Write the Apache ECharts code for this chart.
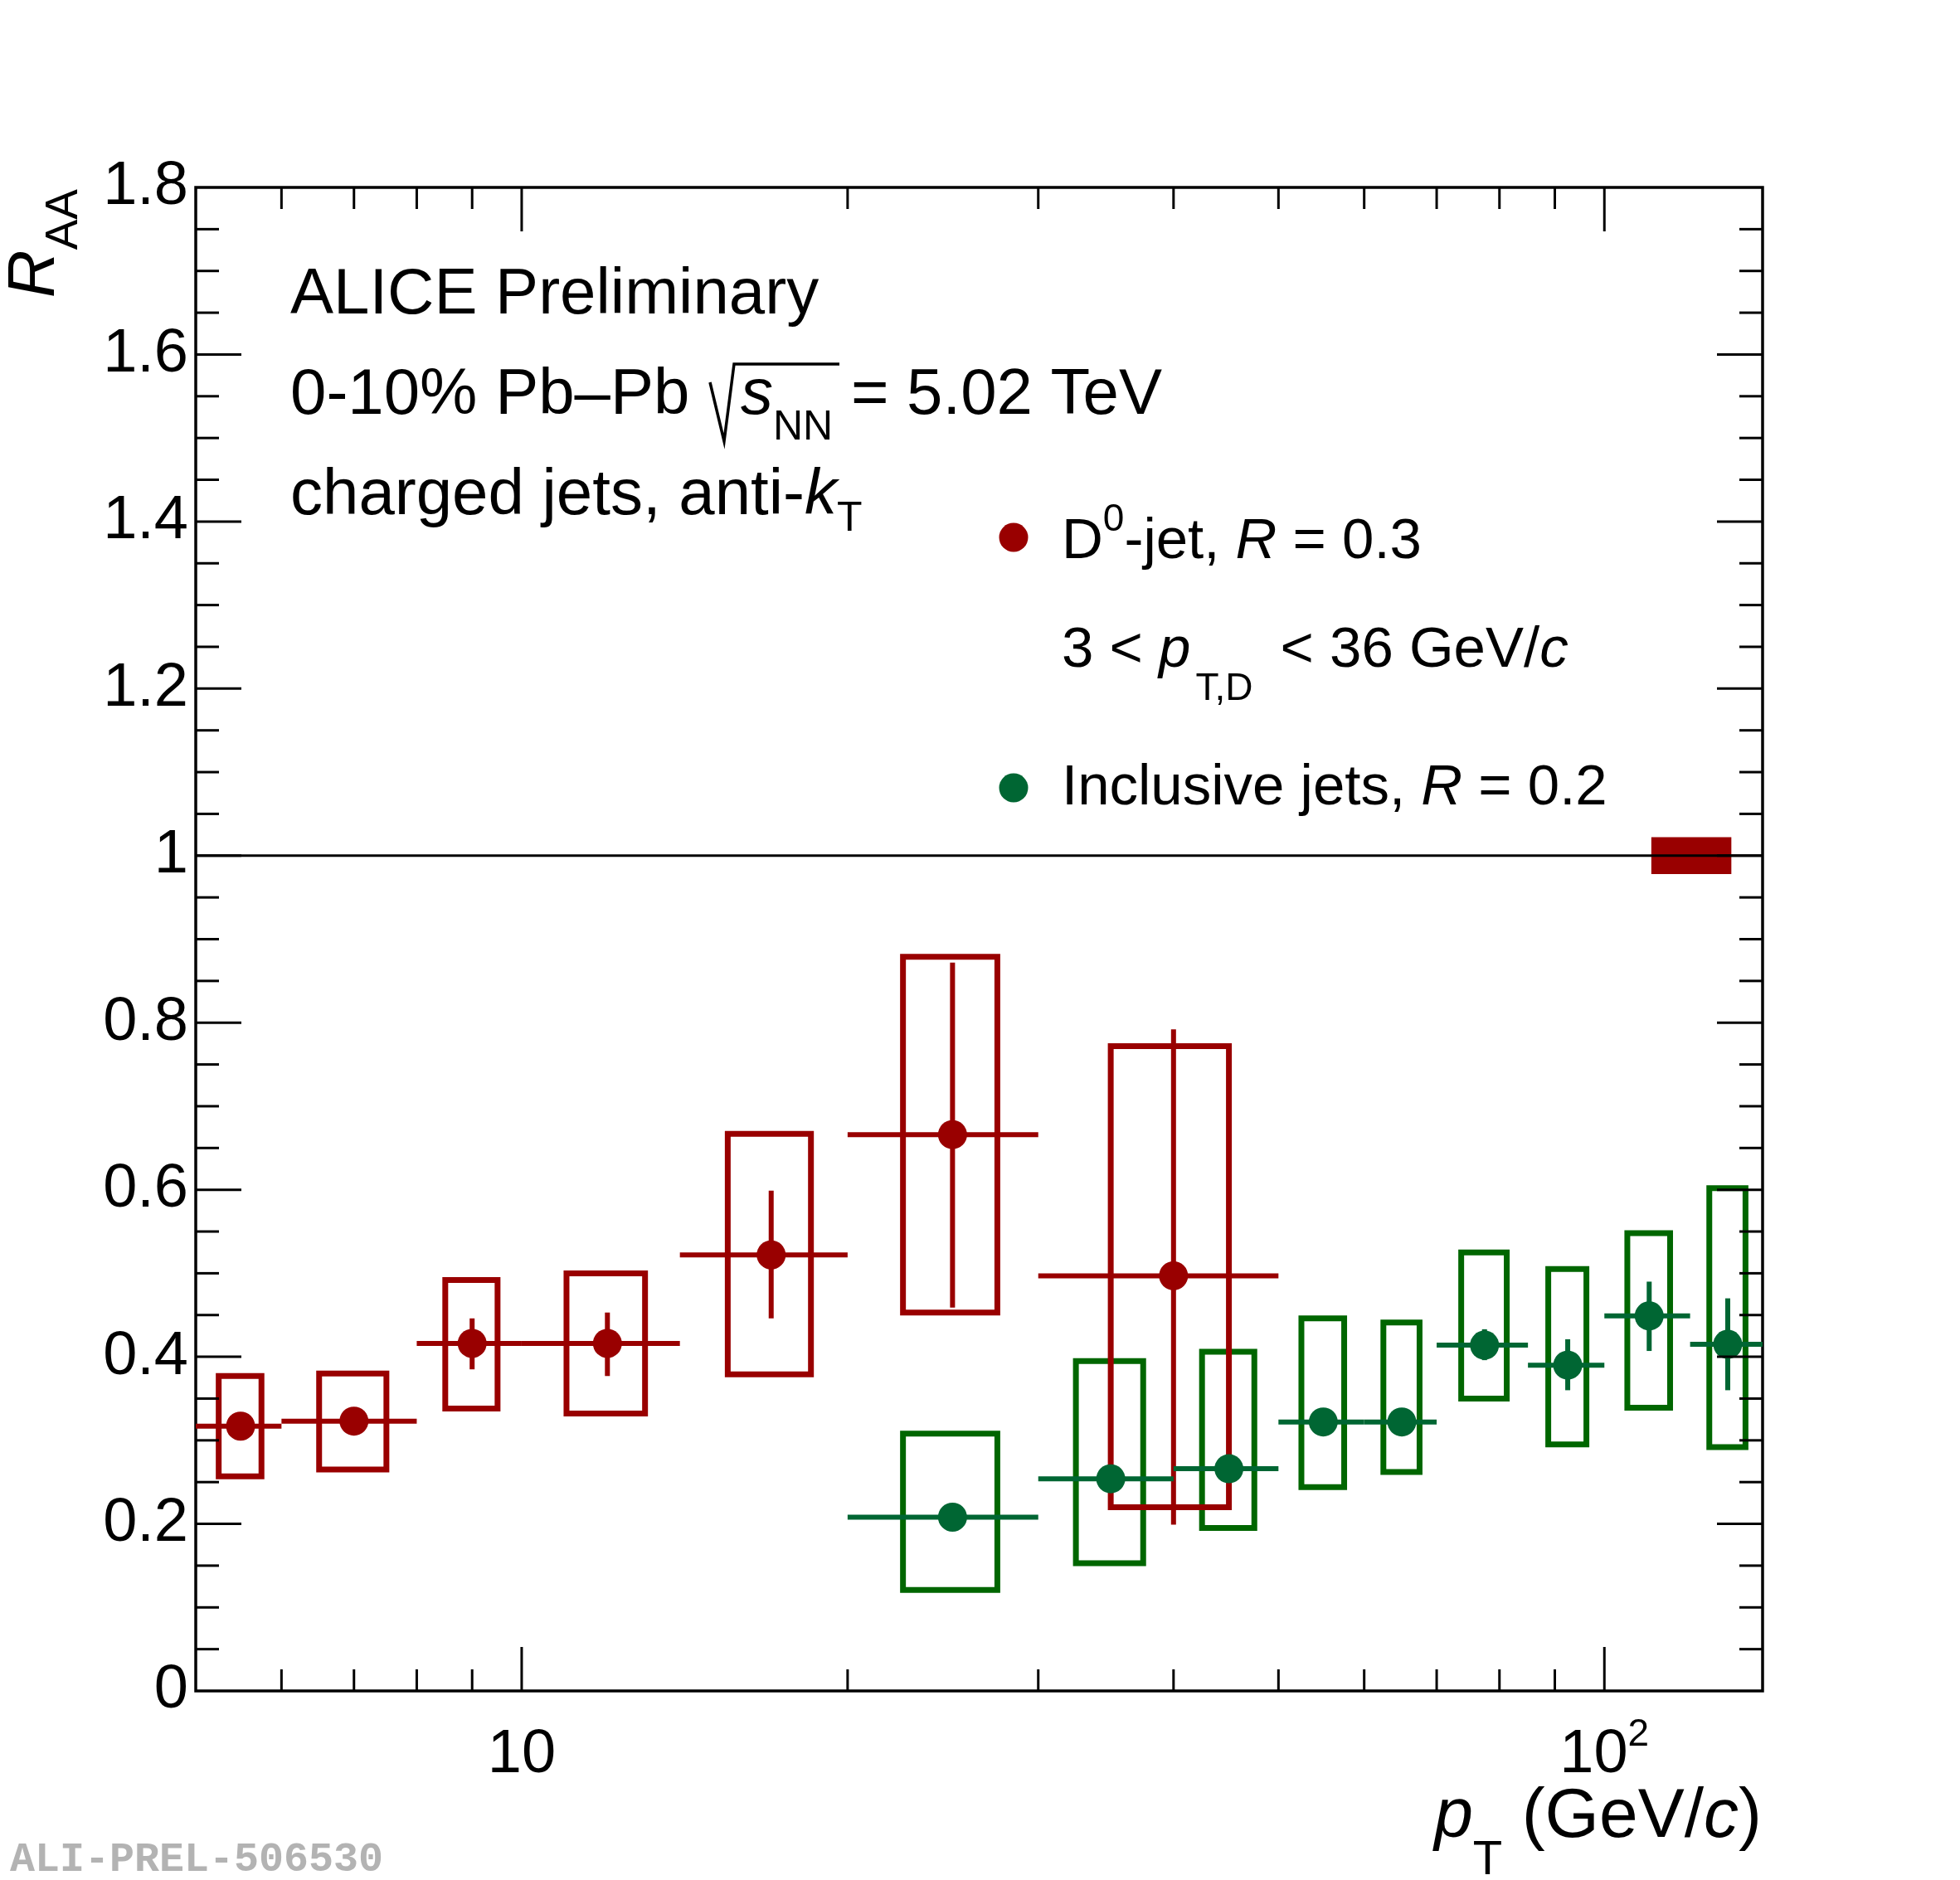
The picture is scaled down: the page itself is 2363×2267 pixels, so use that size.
<!DOCTYPE html>
<html><head><meta charset="utf-8">
<script src="https://cdn.jsdelivr.net/npm/echarts@6/dist/echarts.min.js"></script>
<style>html,body{margin:0;padding:0;background:#fff}#c{width:2363px;height:2267px}</style>
</head><body><div id="c"></div>
<script>
// ---------- data ----------
// D0-jet, R = 0.3
const d0Center = [5.5, 7, 9, 12, 17, 25, 40];
const d0BinLo  = [5, 6, 8, 10, 14, 20, 30];
const d0BinHi  = [6, 8, 10, 14, 20, 30, 50];
const d0Value  = [0.317, 0.323, 0.416, 0.416, 0.522, 0.666, 0.497];
const d0StatLo = [0.307, 0.313, 0.385, 0.377, 0.446, 0.459, 0.199];
const d0StatHi = [0.327, 0.333, 0.446, 0.453, 0.599, 0.872, 0.792];
const d0SysLo  = [0.257, 0.265, 0.338, 0.332, 0.379, 0.453, 0.220];
const d0SysHi  = [0.377, 0.380, 0.492, 0.500, 0.667, 0.879, 0.772];
// Inclusive jets, R = 0.2
const incCenter = [25, 35, 45, 55, 65, 77.5, 92.5, 110, 130];
const incBinLo  = [20, 30, 40, 50, 60, 70, 85, 100, 120];
const incBinHi  = [30, 40, 50, 60, 70, 85, 100, 120, 140];
const incValue  = [0.208, 0.254, 0.266, 0.322, 0.322, 0.414, 0.390, 0.449, 0.415];
const incStatLo = [0.200, 0.246, 0.258, 0.314, 0.314, 0.396, 0.360, 0.407, 0.360];
const incStatHi = [0.216, 0.262, 0.274, 0.330, 0.330, 0.433, 0.421, 0.490, 0.470];
const incSysLo  = [0.121, 0.153, 0.195, 0.244, 0.262, 0.350, 0.295, 0.339, 0.292];
const incSysHi  = [0.308, 0.395, 0.406, 0.446, 0.441, 0.525, 0.505, 0.548, 0.602];
// global normalisation uncertainty box
const normX = [110.5, 131];
const normY = [0.978, 1.022];
// reference line
const refLineY = 1;
// axes
const xRange = [5, 140];
const yRange = [0, 1.8];
const xMajorTicks = [10, 100];
const xMinorTicks = [6, 7, 8, 9, 20, 30, 40, 50, 60, 70, 80, 90];
const xLabelValues = [10, 100];
const xLabelBase = ['10', '10'];
const xLabelExp = ['', '2'];
const yMajorTicks = [0.2, 0.4, 0.6, 0.8, 1.0, 1.2, 1.4, 1.6];
const yMinorTicks = [0.05, 0.1, 0.15, 0.25, 0.3, 0.35, 0.45, 0.5, 0.55, 0.65, 0.7, 0.75, 0.85, 0.9, 0.95,
                     1.05, 1.1, 1.15, 1.25, 1.3, 1.35, 1.45, 1.5, 1.55, 1.65, 1.7, 1.75];

// ---------- styling ----------
const FONT = '"Liberation Sans", Arial, Helvetica, sans-serif';
const RED = '#990000', GREEN_BOX = '#006600', GREEN = '#006633';

function boxData(center, lo, hi, sLo, sHi) {
  return center.map((c, i) => { const hw = (hi[i] - lo[i]) / 4; return [c - hw, c + hw, sLo[i], sHi[i]]; });
}
function errData(center, lo, hi, v, sLo, sHi) {
  return center.map((c, i) => [c, v[i], lo[i], hi[i], sLo[i], sHi[i]]);
}
function renderBox(color, filled) {
  return (params, api) => {
    const p0 = api.coord([api.value(0), api.value(2)]);
    const p1 = api.coord([api.value(1), api.value(3)]);
    return { type: 'rect',
      shape: { x: p0[0], y: p1[1], width: p1[0] - p0[0], height: p0[1] - p1[1] },
      style: filled ? { fill: color } : { fill: 'none', stroke: color, lineWidth: 7 } };
  };
}
function renderErr(color) {
  return (params, api) => {
    const c = api.value(0), v = api.value(1);
    const a = api.coord([api.value(2), v]), b = api.coord([api.value(3), v]);
    const s0 = api.coord([c, api.value(4)]), s1 = api.coord([c, api.value(5)]);
    return { type: 'group', children: [
      { type: 'line', shape: { x1: a[0], y1: a[1], x2: b[0], y2: b[1] }, style: { stroke: color, lineWidth: 6 } },
      { type: 'line', shape: { x1: s0[0], y1: s0[1], x2: s1[0], y2: s1[1] }, style: { stroke: color, lineWidth: 6 } }
    ] };
  };
}
function renderXTick(params, api) {
  const cs = params.coordSys;
  const px = api.coord([api.value(0), 1])[0];
  const len = api.value(1) ? 53 : 26;
  const st = { stroke: '#000', lineWidth: 3 };
  return { type: 'group', children: [
    { type: 'line', shape: { x1: px, y1: cs.y + cs.height, x2: px, y2: cs.y + cs.height - len }, style: st },
    { type: 'line', shape: { x1: px, y1: cs.y, x2: px, y2: cs.y + len }, style: st }
  ] };
}
function renderYTick(params, api) {
  const cs = params.coordSys;
  const py = api.coord([10, api.value(1)])[1];
  const len = api.value(2) ? 55 : 28;
  const st = { stroke: '#000', lineWidth: 3 };
  return { type: 'group', children: [
    { type: 'line', shape: { x1: cs.x, y1: py, x2: cs.x + len, y2: py }, style: st },
    { type: 'line', shape: { x1: cs.x + cs.width, y1: py, x2: cs.x + cs.width - len, y2: py }, style: st }
  ] };
}

const chart = echarts.init(document.getElementById('c'), null, { renderer: 'canvas', width: 2363, height: 2267 });

const rt = (o) => Object.assign({ fontFamily: FONT, fill: '#000', color: '#000' }, o);

const option = {
  animation: false,
  backgroundColor: '#fff',
  grid: { left: 236, right: 238, top: 226, bottom: 228, show: true, borderColor: '#000', borderWidth: 3.5, backgroundColor: 'transparent' },
  xAxis: {
    type: 'log', logBase: 10, min: xRange[0], max: xRange[1],
    axisLine: { show: false }, axisTick: { show: false }, splitLine: { show: false }, minorTick: { show: false },
    axisLabel: {
      margin: 30, showMinLabel: false, showMaxLabel: false,
      formatter: (v) => {
        for (let i = 0; i < xLabelValues.length; i++) {
          if (Math.abs(Math.log10(v) - Math.log10(xLabelValues[i])) < 1e-6) {
            return '{b|' + xLabelBase[i] + '}' + (xLabelExp[i] ? '{s|' + xLabelExp[i] + '}' : '');
          }
        }
        return '';
      },
      rich: {
        b: { fontFamily: FONT, fontSize: 74, lineHeight: 96, color: '#000' },
        s: { fontFamily: FONT, fontSize: 46, lineHeight: 46, verticalAlign: 'top', color: '#000' }
      }
    }
  },
  yAxis: {
    type: 'value', min: yRange[0], max: yRange[1], interval: 0.2,
    axisLine: { show: false }, axisTick: { show: false }, splitLine: { show: false },
    axisLabel: { margin: 9, fontFamily: FONT, fontSize: 74, color: '#000' }
  },
  series: [
    { type: 'custom', name: 'ticksX', renderItem: renderXTick, encode: { x: 0, y: 1 }, z: 10, silent: true,
      data: xMajorTicks.map(v => [v, 1]).concat(xMinorTicks.map(v => [v, 0])) },
    { type: 'custom', name: 'ticksY', renderItem: renderYTick, encode: { x: 0, y: 1 }, z: 10, silent: true,
      data: yMajorTicks.map(v => [10, v, 1]).concat(yMinorTicks.map(v => [10, v, 0])) },
    { type: 'custom', name: 'norm', renderItem: renderBox(RED, true), encode: { x: [0, 1], y: [2, 3] }, z: 2,
      data: [[normX[0], normX[1], normY[0], normY[1]]] },
    { type: 'line', name: 'ref', data: [[xRange[0], refLineY], [xRange[1], refLineY]], symbol: 'none',
      lineStyle: { color: '#000', width: 3 }, z: 3, silent: true },
    { type: 'custom', name: 'incSys', renderItem: renderBox(GREEN_BOX, false), encode: { x: [0, 1], y: [2, 3] }, z: 4,
      data: boxData(incCenter, incBinLo, incBinHi, incSysLo, incSysHi) },
    { type: 'custom', name: 'd0Sys', renderItem: renderBox(RED, false), encode: { x: [0, 1], y: [2, 3] }, z: 5,
      data: boxData(d0Center, d0BinLo, d0BinHi, d0SysLo, d0SysHi) },
    { type: 'custom', name: 'd0Err', renderItem: renderErr(RED), encode: { x: [0, 2, 3], y: [1, 4, 5] }, z: 6,
      data: errData(d0Center, d0BinLo, d0BinHi, d0Value, d0StatLo, d0StatHi) },
    { type: 'scatter', name: 'D0-jet', symbol: 'circle', symbolSize: 35, itemStyle: { color: RED, opacity: 1 }, z: 7,
      data: d0Center.map((c, i) => [c, d0Value[i]]) },
    { type: 'custom', name: 'incErr', renderItem: renderErr(GREEN), encode: { x: [0, 2, 3], y: [1, 4, 5] }, z: 8,
      data: errData(incCenter, incBinLo, incBinHi, incValue, incStatLo, incStatHi) },
    { type: 'scatter', name: 'Inclusive', symbol: 'circle', symbolSize: 35, itemStyle: { color: GREEN, opacity: 1 }, z: 9,
      data: incCenter.map((c, i) => [c, incValue[i]]) }
  ],
  graphic: [
    // header texts
    { type: 'text', x: 350, y: 356, z: 100, style: { text: 'ALICE Preliminary', fontFamily: FONT, fontSize: 78, fill: '#000', verticalAlign: 'middle' } },
    { type: 'text', x: 350, y: 477, z: 100, style: { text: '0-10% Pb\u2013Pb', fontFamily: FONT, fontSize: 78, fill: '#000', verticalAlign: 'middle' } },
    { type: 'polyline', z: 100, shape: { points: [[856, 461], [873, 532], [885, 439], [1012, 439]] }, style: { stroke: '#000', lineWidth: 3.5, fill: 'none' } },
    { type: 'text', x: 893, y: 413, z: 100, style: { text: '{i|s}{sub|NN}{n| = 5.02 TeV}', verticalAlign: 'top',
        rich: { i: rt({ fontSize: 78, fontStyle: 'italic', lineHeight: 128 }), sub: rt({ fontSize: 50, lineHeight: 50, verticalAlign: 'bottom' }), n: rt({ fontSize: 78, lineHeight: 128 }) } } },
    { type: 'text', x: 350, y: 546, z: 100, style: { text: '{n|charged jets, anti-}{i|k}{sub|T}', verticalAlign: 'top',
        rich: { n: rt({ fontSize: 78, lineHeight: 105 }), i: rt({ fontSize: 78, fontStyle: 'italic', lineHeight: 105 }), sub: rt({ fontSize: 50, lineHeight: 50, verticalAlign: 'bottom' }) } } },
    // legend
    { type: 'circle', z: 100, shape: { cx: 1222, cy: 648, r: 17.5 }, style: { fill: RED } },
    { type: 'circle', z: 100, shape: { cx: 1222, cy: 950, r: 17.5 }, style: { fill: GREEN } },
    { type: 'text', x: 1280, y: 604, z: 100, style: { text: '{n|D}{sup|0}{n|-jet, }{i|R}{n| = 0.3}', verticalAlign: 'top',
        rich: { n: rt({ fontSize: 69, lineHeight: 99 }), i: rt({ fontSize: 69, fontStyle: 'italic', lineHeight: 99 }), sup: rt({ fontSize: 46, lineHeight: 46, verticalAlign: 'top' }) } } },
    { type: 'text', x: 1280, y: 716, z: 100, style: { text: '{n|3 < }{i|p}{sub|T,D}{n| < 36 GeV/}{i|c}', verticalAlign: 'top',
        rich: { n: rt({ fontSize: 69, lineHeight: 138 }), i: rt({ fontSize: 69, fontStyle: 'italic', lineHeight: 138 }), sub: rt({ fontSize: 46, lineHeight: 46, verticalAlign: 'bottom', padding: [0, 14, 0, 6] }) } } },
    { type: 'text', x: 1280, y: 916, z: 100, style: { text: '{n|Inclusive jets, }{i|R}{n| = 0.2}', verticalAlign: 'top',
        rich: { n: rt({ fontSize: 69, lineHeight: 70 }), i: rt({ fontSize: 69, fontStyle: 'italic', lineHeight: 70 }) } } },
    // axis titles
    { type: 'text', x: 2124, y: 2110, z: 100, style: { text: '{i|p}{sub|T}{n| (GeV/}{i|c}{n|)}', align: 'right', verticalAlign: 'top',
        rich: { i: rt({ fontSize: 84, fontStyle: 'italic', lineHeight: 163 }), n: rt({ fontSize: 84, lineHeight: 163 }), sub: rt({ fontSize: 58, lineHeight: 58, verticalAlign: 'bottom' }) } } },
    { type: 'text', x: -19, y: 228, rotation: Math.PI / 2, z: 100, style: { text: '{i|R}{sub|AA}', align: 'right', verticalAlign: 'top',
        rich: { i: rt({ fontSize: 80, fontStyle: 'italic', lineHeight: 124 }), sub: rt({ fontSize: 55, lineHeight: 55, verticalAlign: 'bottom' }) } } },
    // watermark
    { type: 'text', x: 12, y: 2243, z: 100, style: { text: 'ALI-PREL-506530', fontFamily: '"Liberation Mono", "Courier New", monospace', fontWeight: 'bold', fontSize: 50, fill: '#b3b3b3', verticalAlign: 'middle' } }
  ]
};
chart.setOption(option);
</script>
</body></html>
